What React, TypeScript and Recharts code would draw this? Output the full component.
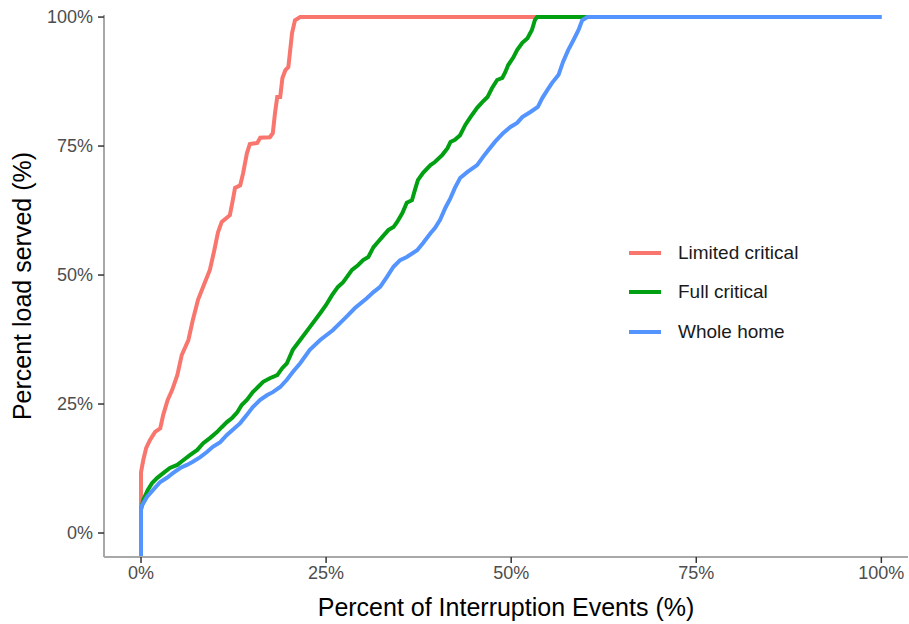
import React from 'react';
import { LineChart, Line, XAxis, YAxis } from 'recharts';

// x = share of interruption events, y = share of load served
const limitedCritical = [
  [0, 0.045], [0, 0.118], [0.003, 0.141], [0.007, 0.165], [0.012, 0.18], [0.019, 0.196],
  [0.026, 0.203], [0.03, 0.229], [0.036, 0.258], [0.042, 0.277], [0.049, 0.306], [0.055, 0.345],
  [0.064, 0.374], [0.07, 0.413], [0.077, 0.452], [0.085, 0.481], [0.093, 0.51], [0.099, 0.548],
  [0.104, 0.583], [0.109, 0.603], [0.12, 0.616], [0.124, 0.645], [0.127, 0.669], [0.134, 0.674],
  [0.138, 0.698], [0.143, 0.736], [0.147, 0.754], [0.157, 0.756], [0.161, 0.766], [0.174, 0.767],
  [0.178, 0.775], [0.181, 0.814], [0.184, 0.845], [0.188, 0.845], [0.191, 0.882], [0.195, 0.897],
  [0.199, 0.903], [0.204, 0.969], [0.208, 0.994], [0.215, 1], [1, 1],
];

const fullCritical = [
  [0, 0.045], [0.003, 0.064], [0.009, 0.083], [0.015, 0.097], [0.022, 0.107], [0.03, 0.116],
  [0.039, 0.126], [0.049, 0.132], [0.057, 0.141], [0.066, 0.151], [0.076, 0.161], [0.084, 0.174],
  [0.093, 0.184], [0.103, 0.196], [0.109, 0.205], [0.116, 0.215], [0.123, 0.223], [0.13, 0.234],
  [0.136, 0.248], [0.143, 0.258], [0.151, 0.273], [0.158, 0.283], [0.165, 0.293], [0.174, 0.3],
  [0.184, 0.306], [0.191, 0.32], [0.197, 0.329], [0.205, 0.355], [0.215, 0.374], [0.228, 0.399],
  [0.242, 0.426], [0.25, 0.442], [0.258, 0.461], [0.266, 0.477], [0.273, 0.486], [0.278, 0.496],
  [0.285, 0.51], [0.293, 0.519], [0.3, 0.529], [0.307, 0.535], [0.314, 0.554], [0.32, 0.564],
  [0.326, 0.574], [0.334, 0.587], [0.341, 0.593], [0.346, 0.603], [0.353, 0.62], [0.359, 0.64],
  [0.366, 0.645], [0.37, 0.665], [0.374, 0.684], [0.381, 0.698], [0.391, 0.713], [0.397, 0.719],
  [0.407, 0.733], [0.414, 0.746], [0.418, 0.758], [0.424, 0.762], [0.431, 0.771], [0.438, 0.791],
  [0.445, 0.806], [0.454, 0.824], [0.461, 0.835], [0.468, 0.845], [0.474, 0.862], [0.481, 0.878],
  [0.488, 0.882], [0.492, 0.893], [0.496, 0.907], [0.503, 0.922], [0.508, 0.936], [0.515, 0.95],
  [0.522, 0.959], [0.528, 0.975], [0.532, 0.994], [0.535, 1], [1, 1],
];

const wholeHome = [
  [0, -0.046], [0, 0.05], [0.008, 0.07], [0.016, 0.083], [0.026, 0.099], [0.035, 0.107],
  [0.043, 0.116], [0.053, 0.126], [0.062, 0.132], [0.07, 0.138], [0.08, 0.147], [0.089, 0.157],
  [0.097, 0.167], [0.107, 0.176], [0.116, 0.19], [0.124, 0.2], [0.134, 0.213], [0.143, 0.229],
  [0.151, 0.244], [0.161, 0.258], [0.17, 0.267], [0.178, 0.273], [0.188, 0.283], [0.197, 0.297],
  [0.205, 0.312], [0.215, 0.329], [0.228, 0.355], [0.242, 0.374], [0.259, 0.393], [0.276, 0.417],
  [0.289, 0.436], [0.305, 0.455], [0.314, 0.467], [0.323, 0.477], [0.332, 0.496], [0.341, 0.516],
  [0.35, 0.529], [0.359, 0.535], [0.373, 0.548], [0.381, 0.562], [0.391, 0.581], [0.397, 0.591],
  [0.404, 0.607], [0.411, 0.63], [0.418, 0.649], [0.424, 0.669], [0.431, 0.688], [0.441, 0.7],
  [0.454, 0.713], [0.462, 0.729], [0.469, 0.742], [0.478, 0.758], [0.489, 0.775], [0.499, 0.787],
  [0.508, 0.795], [0.515, 0.806], [0.526, 0.816], [0.536, 0.826], [0.542, 0.843], [0.549, 0.859],
  [0.555, 0.872], [0.564, 0.888], [0.57, 0.913], [0.577, 0.936], [0.584, 0.955], [0.591, 0.975],
  [0.596, 0.994], [0.603, 1], [1, 1],
];

const percentTicks = [0, 0.25, 0.5, 0.75, 1];

const series = [
  { name: 'Limited critical', color: '#F8766D', points: limitedCritical },
  { name: 'Full critical', color: '#00A012', points: fullCritical },
  { name: 'Whole home', color: '#5494FF', points: wholeHome },
];

const toRows = (pts: number[][]) => pts.map(([x, y]) => ({ x, y }));
const pct = (v: number) => `${Math.round(v * 100)}%`;
const FONT = '"Liberation Sans", Arial, sans-serif';

// legend drawn as an overlay so it does not eat into the plot area
const LegendBox = () => (
  <div style={{ position: 'absolute', left: 629, top: 233, fontFamily: FONT, fontSize: 19, color: '#1a1a1a' }}>
    {series.map((s) => (
      <div key={s.name} style={{ display: 'flex', alignItems: 'center', height: 39.5 }}>
        <span style={{ width: 32, height: 4, background: s.color, marginRight: 17 }} />
        {s.name}
      </div>
    ))}
  </div>
);

export default function App() {
  return (
    <div style={{ position: 'absolute', left: 0, top: 0, width: 909, height: 624, background: '#fff' }}>
      <LineChart width={909} height={624} margin={{ top: 15, right: 1, left: 0, bottom: 0 }}>
        <XAxis
          type="number"
          dataKey="x"
          domain={[-0.05, 1.036]}
          ticks={percentTicks}
          tickFormatter={pct}
          allowDataOverflow
          height={67}
          axisLine={{ stroke: '#a8a8a8', strokeWidth: 2 }}
          tickLine={{ stroke: '#333', strokeWidth: 1.5 }}
          tickSize={6}
          tickMargin={3}
          tick={{ fill: '#4d4d4d', fontSize: 18, fontFamily: FONT }}
          label={{
            value: 'Percent of Interruption Events (%)',
            position: 'insideBottom',
            offset: 8,
            style: { fill: '#000', fontSize: 25, fontFamily: FONT },
          }}
        />
        <YAxis
          type="number"
          dataKey="y"
          domain={[-0.0465, 1.004]}
          ticks={percentTicks}
          tickFormatter={pct}
          allowDataOverflow
          width={104}
          axisLine={{ stroke: '#a8a8a8', strokeWidth: 2 }}
          tickLine={{ stroke: '#333', strokeWidth: 1.5 }}
          tickSize={6}
          tickMargin={5}
          tick={{ fill: '#4d4d4d', fontSize: 18, fontFamily: FONT }}
          label={{
            value: 'Percent load served (%)',
            angle: -90,
            position: 'insideLeft',
            offset: 22,
            style: { fill: '#000', fontSize: 25, fontFamily: FONT, textAnchor: 'middle' },
          }}
        />
        {series.map((s) => (
          <Line
            key={s.name}
            data={toRows(s.points)}
            dataKey="y"
            name={s.name}
            type="linear"
            stroke={s.color}
            strokeWidth={4}
            dot={false}
            isAnimationActive={false}
          />
        ))}
      </LineChart>
      <LegendBox />
    </div>
  );
}
